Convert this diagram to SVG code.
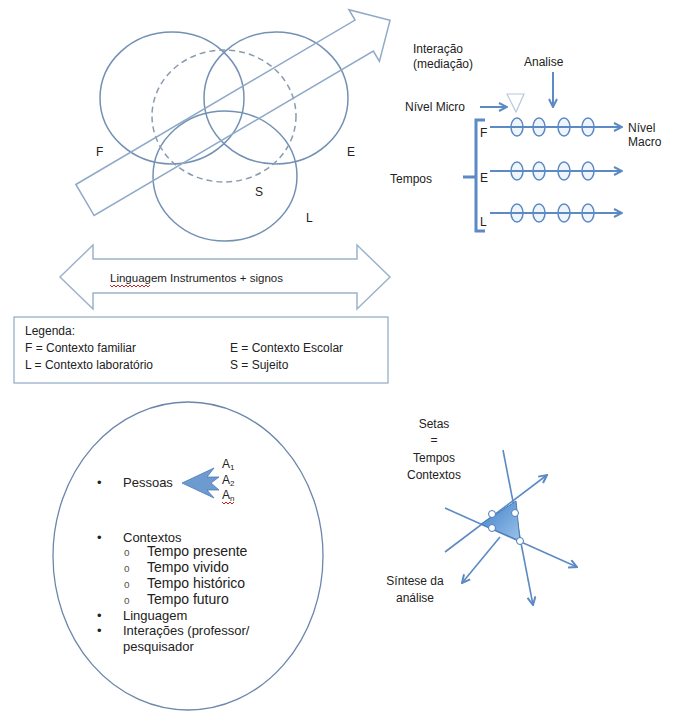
<svg xmlns="http://www.w3.org/2000/svg" width="673" height="713" viewBox="0 0 673 713">
<defs>
<marker id="chev" viewBox="0 0 10 10" refX="9" refY="5" markerWidth="10" markerHeight="10" markerUnits="userSpaceOnUse" orient="auto">
<path d="M1,1 L9,5 L1,9" fill="none" stroke="#5b8ac4" stroke-width="2"/>
</marker>
<linearGradient id="triG" x1="0" y1="0" x2="1" y2="1">
<stop offset="0" stop-color="#3f7fc8"/>
<stop offset="1" stop-color="#9cc3ea"/>
</linearGradient>
<style>
text{font-family:"Liberation Sans",Arial,sans-serif;fill:#222;}
.t12{font-size:12px;}
.t13{font-size:13px;}
.t14{font-size:14px;}
.venn{fill:none;stroke:#7391b5;stroke-width:1.5;}
.outline{fill:#fff;stroke:#9db3cc;stroke-width:1.5;}
.blue{fill:none;stroke:#5b8ac4;stroke-width:2;}
.oval{fill:#e6eef8;fill-opacity:0.6;stroke:#5b8ac4;stroke-width:1.5;}
.wavy{fill:none;stroke:#d02020;stroke-width:1;}
</style>
</defs>

<g id="venn">
<ellipse class="venn" cx="172" cy="98" rx="72" ry="66"/>
<ellipse class="venn" cx="276" cy="98" rx="72" ry="66"/>
<ellipse class="venn" cx="225" cy="176" rx="72" ry="65"/>
<ellipse class="venn" cx="224" cy="116" rx="72" ry="66" stroke-dasharray="6,4" style="stroke:#8a9ab0"/>
</g>

<g id="big-arrow">
<path d="M0,-18 L324,-18 L324,-30 L354,0 L324,30 L324,18 L0,18 Z" transform="translate(85,200) rotate(-30.5)" fill="none" stroke="#8fa9c8" stroke-width="1.5"/>
</g>

<g id="venn-labels">
<text class="t12" x="96" y="156">F</text>
<text class="t12" x="347" y="156">E</text>
<text class="t12" x="255" y="196">S</text>
<text class="t12" x="306" y="222">L</text>
</g>

<g id="double-arrow">
<path class="outline" d="M60,277 L93,245 L93,259 L357,259 L357,245 L390,277 L357,309 L357,293 L93,293 L93,309 Z"/>
<text x="110" y="282" style="font-size:11.5px">Linguagem  Instrumentos + signos</text>
<path class="wavy" d="M110,285 l2,2 l2,-2 l2,2 l2,-2 l2,2 l2,-2 l2,2 l2,-2 l2,2 l2,-2 l2,2 l2,-2 l2,2 l2,-2 l2,2 l2,-2 l2,2 l2,-2 l2,2 l2,-2"/>
</g>

<g id="legend">
<rect x="14" y="317" width="374" height="66" fill="#fff" stroke="#8fa9c4" stroke-width="1.2"/>
<text class="t12" x="25" y="335">Legenda:</text>
<text class="t12" x="25" y="352">F = Contexto familiar</text>
<text class="t12" x="25" y="369">L = Contexto laboratório</text>
<text class="t12" x="230" y="352">E = Contexto Escolar</text>
<text class="t12" x="230" y="369">S = Sujeito</text>
</g>

<g id="tempos">
<text class="t12" x="413" y="53">Interação</text>
<text class="t12" x="413" y="68">(mediação)</text>
<text class="t12" x="524" y="66">Analise</text>
<text class="t12" x="405" y="111">Nível Micro</text>
<text class="t12" x="390" y="183">Tempos</text>
<text class="t12" x="628" y="132">Nível</text>
<text class="t12" x="628" y="146">Macro</text>
<path d="M507,94 L524,94 L516,112 Z" fill="#fff" stroke="#b7c9dc" stroke-width="1.2"/>
<path d="M485,120 L476,120 L476,231 L485,231 M463,177 L476,177" fill="none" stroke="#5b8ac4" stroke-width="3"/>
<text class="t12" x="480" y="137">F</text>
<text class="t12" x="480" y="182">E</text>
<text class="t12" x="480" y="226">L</text>
</g>

<g id="rows">
<ellipse class="oval" cx="517" cy="127" rx="6" ry="9"/>
<ellipse class="oval" cx="539" cy="127" rx="6" ry="9"/>
<ellipse class="oval" cx="564" cy="127" rx="6" ry="9"/>
<ellipse class="oval" cx="588" cy="127" rx="6" ry="9"/>
<ellipse class="oval" cx="517" cy="171" rx="6" ry="9"/>
<ellipse class="oval" cx="539" cy="171" rx="6" ry="9"/>
<ellipse class="oval" cx="564" cy="171" rx="6" ry="9"/>
<ellipse class="oval" cx="588" cy="171" rx="6" ry="9"/>
<ellipse class="oval" cx="517" cy="213" rx="6" ry="9"/>
<ellipse class="oval" cx="539" cy="213" rx="6" ry="9"/>
<ellipse class="oval" cx="564" cy="213" rx="6" ry="9"/>
<ellipse class="oval" cx="588" cy="213" rx="6" ry="9"/>
</g>

<g id="connectors">
<line class="blue" x1="490" y1="127" x2="622" y2="127" marker-end="url(#chev)"/>
<line class="blue" x1="490" y1="171" x2="622" y2="171" marker-end="url(#chev)"/>
<line class="blue" x1="490" y1="213" x2="622" y2="213" marker-end="url(#chev)"/>
<line class="blue" x1="553" y1="72" x2="553" y2="107" marker-end="url(#chev)"/>
<line class="blue" x1="480" y1="107" x2="507" y2="107" marker-end="url(#chev)"/>
<line class="blue" x1="503" y1="450" x2="533" y2="605" marker-end="url(#chev)" style="stroke-width:1.6"/>
<line class="blue" x1="445" y1="552" x2="547" y2="475" marker-end="url(#chev)" style="stroke-width:1.6"/>
<line class="blue" x1="445" y1="508" x2="577" y2="567" marker-end="url(#chev)" style="stroke-width:1.6"/>
<line class="blue" x1="500" y1="537" x2="462" y2="583" marker-end="url(#chev)" style="stroke-width:1.6"/>
</g>

<g id="synthesis">
<path d="M481,524 L516,501 L520,541 Z" fill="url(#triG)" stroke="#4a7bb8" stroke-width="1"/>
<circle cx="492" cy="514" r="3.5" fill="#fff" stroke="#4a7bb8"/>
<circle cx="492" cy="528" r="3.5" fill="#fff" stroke="#4a7bb8"/>
<circle cx="515" cy="513" r="3.5" fill="#fff" stroke="#4a7bb8"/>
<circle cx="520" cy="541" r="3.5" fill="#fff" stroke="#4a7bb8"/>
<text class="t12" x="434" y="428" text-anchor="middle">Setas</text>
<text class="t12" x="434" y="444" text-anchor="middle">=</text>
<text class="t12" x="434" y="462" text-anchor="middle">Tempos</text>
<text class="t12" x="434" y="479" text-anchor="middle">Contextos</text>
<text class="t12" x="415" y="585" text-anchor="middle">Síntese da</text>
<text class="t12" x="415" y="602" text-anchor="middle">análise</text>
</g>

<g id="ellipse-list">
<ellipse cx="188" cy="556" rx="135" ry="154" fill="none" stroke="#6b86aa" stroke-width="1.3"/>
<text class="t13" x="97" y="487">•</text>
<text class="t13" x="123" y="487">Pessoas</text>
<path d="M182,483 L214,468 L207,477 L219,477 L211,483 L219,490 L207,490 L214,498 Z" fill="#6d9bd0" stroke="#4a7bb8" stroke-width="0.8"/>
<text class="t12" x="222" y="468">A<tspan font-size="8" dy="2">1</tspan></text>
<text class="t12" x="222" y="484">A<tspan font-size="8" dy="2">2</tspan></text>
<text class="t12" x="222" y="499">A<tspan font-size="8" dy="2">n</tspan></text>
<path class="wavy" d="M222,502 l2,2 l2,-2 l2,2 l2,-2 l2,2 l2,-2"/>
<text class="t13" x="97" y="542">•</text>
<text class="t13" x="123" y="542">Contextos</text>
<text class="t14" x="124" y="556" style="font-size:10px;fill:#555">o</text>
<text class="t14" x="147" y="556">Tempo presente</text>
<text class="t14" x="124" y="572" style="font-size:10px;fill:#555">o</text>
<text class="t14" x="147" y="572">Tempo vivido</text>
<text class="t14" x="124" y="588" style="font-size:10px;fill:#555">o</text>
<text class="t14" x="147" y="588">Tempo histórico</text>
<text class="t14" x="124" y="604" style="font-size:10px;fill:#555">o</text>
<text class="t14" x="147" y="604">Tempo futuro</text>
<text class="t13" x="97" y="620">•</text>
<text class="t13" x="123" y="620">Linguagem</text>
<text class="t13" x="97" y="635">•</text>
<text class="t13" x="123" y="635">Interações (professor/</text>
<text class="t13" x="123" y="651">pesquisador</text>
</g>
</svg>
